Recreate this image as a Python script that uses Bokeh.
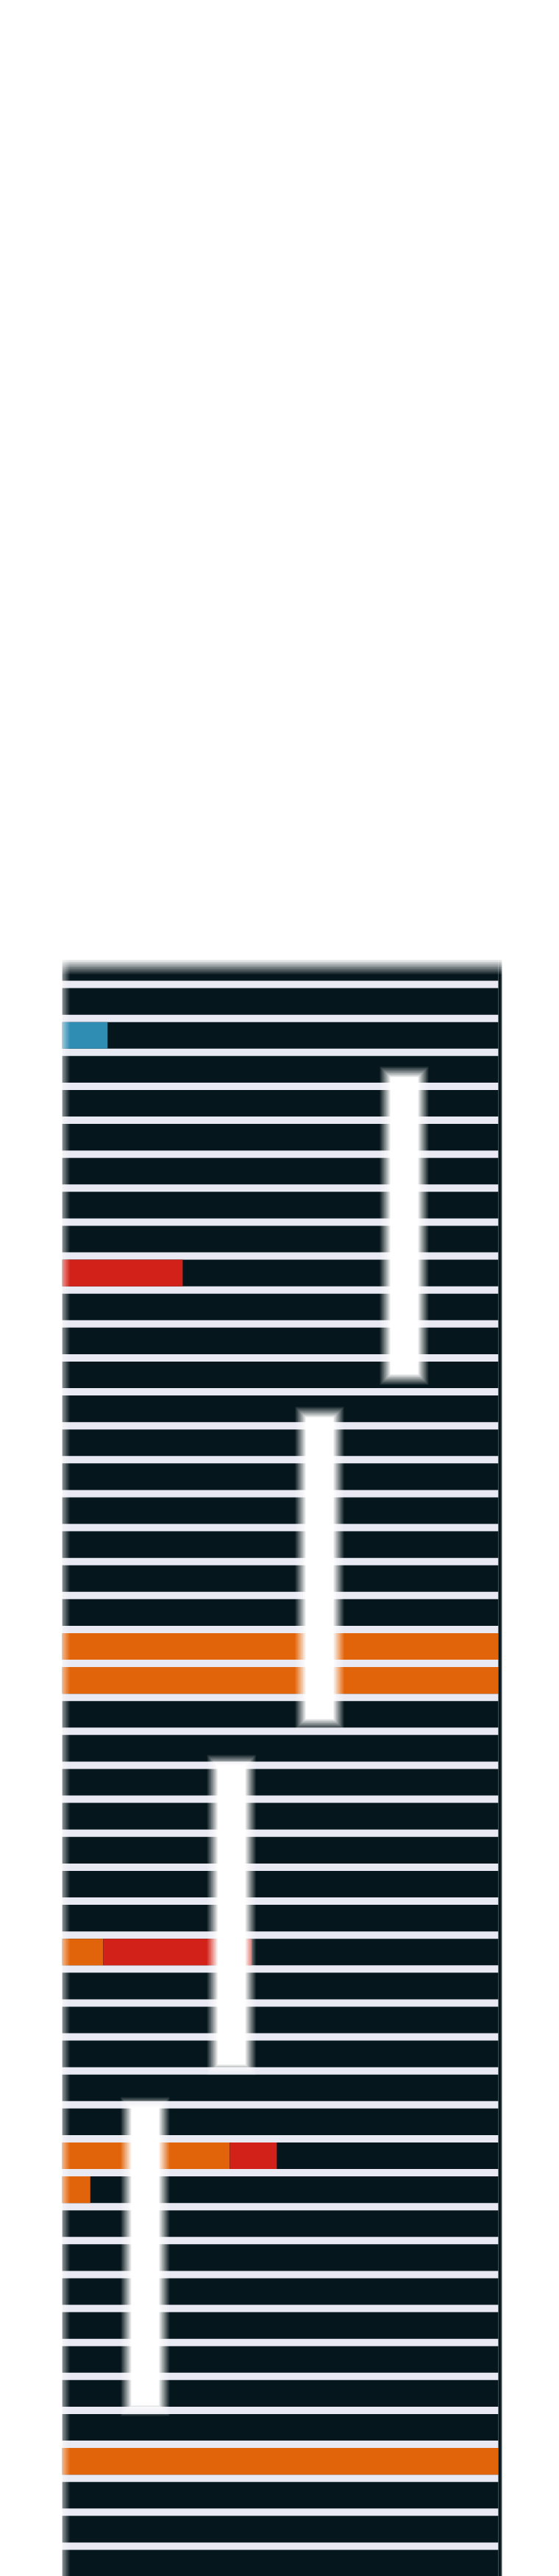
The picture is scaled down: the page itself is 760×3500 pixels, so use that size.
from bokeh.plotting import figure
from bokeh.models import Range1d, ColumnDataSource
from bokeh.embed import file_html
from bokeh.resources import INLINE

# ---------------- data ----------------
# dark bands (row index; -1 is the partial band at the top)
rows = list(range(-1, 47))

# coloured segments: row, start value, end value, category
seg_row = [1, 8, 19, 20, 28, 28, 34, 34, 35, 43]
seg_start = [0, 0, 0, 0, 0, 8.5, 0, 37.8, 0, 0]
seg_end = [9.5, 26.9, 100, 100, 8.5, 42.9, 37.8, 48.7, 5.5, 100]
seg_cat = ["blue", "red", "orange", "orange", "orange", "red",
           "orange", "red", "orange", "orange"]

# white vertical bars: centre value, first row, last row
bar_x = [78.2, 58.6, 38.2, 18.2]
bar_top = [2.62, 12.64, 22.89, 32.97]
bar_bottom = [11.38, 21.53, 31.71, 41.75]

# ---------------- styles ----------------
DARK = "#05161c"
LAV = "#e9e9f3"
COLORS = {"blue": "#2f8cb2", "red": "#d22118", "orange": "#e2640a"}
PX = 5.87          # pixels per value unit
ROWPX = 46.13      # pixels per row
BAND = 36.13 / ROWPX
LEFT = -1.0        # left edge of drawn content (value units)
TOP = -0.83        # top edge of drawn content (row units)
RIGHT = 100.0
RCOL = 100.85
YMAX = 47.0

# the Bokeh page template has no body margin: the figure starts at (0, 0)
p = figure(width=760, height=3500,
           x_range=Range1d((0 - 90) / PX, (760 - 90) / PX),
           y_range=Range1d((3500 - 1342) / ROWPX, (0 - 1342) / ROWPX),
           x_axis_type=None, y_axis_type=None,
           toolbar_location=None, output_backend="svg",
           min_border=0, outline_line_color=None,
           background_fill_color="white", border_fill_color="white")
p.grid.visible = False

# lavender background (gaps between bands)
p.quad(left=[LEFT], right=[RIGHT], top=[-0.5], bottom=[YMAX],
       fill_color=LAV, line_color=None)

# dark bands
band_src = ColumnDataSource(dict(
    left=[LEFT] * len(rows), right=[RIGHT] * len(rows),
    top=[max(r, TOP) for r in rows],
    bottom=[r + BAND for r in rows]))
p.quad(left="left", right="right", top="top", bottom="bottom",
       source=band_src, fill_color=DARK, line_color=None)

# dark right border column
p.quad(left=[RIGHT], right=[RCOL], top=[TOP], bottom=[YMAX],
       fill_color=DARK, line_color=None)

# coloured segments
seg_src = ColumnDataSource(dict(
    left=[LEFT if s == 0 else s for s in seg_start],
    right=seg_end,
    top=[r for r in seg_row],
    bottom=[r + BAND for r in seg_row],
    color=[COLORS[c] for c in seg_cat]))
p.quad(left="left", right="right", top="top", bottom="bottom",
       source=seg_src, fill_color="color", line_color=None)

# white bars with soft edges
K = 8
HALF = 19 / PX
BX = 14 / PX
BY = 14 / ROWPX
for m in range(1, K + 1):
    f = (K - m + 1) / K
    a = 1.0 / (K + 2 - m)
    p.quad(left=[x - HALF - BX * f for x in bar_x],
           right=[x + HALF + BX * f for x in bar_x],
           top=[t - BY * f for t in bar_top],
           bottom=[b + BY * f for b in bar_bottom],
           fill_color="white", fill_alpha=a, line_color=None)
p.quad(left=[x - HALF for x in bar_x], right=[x + HALF for x in bar_x],
       top=bar_top, bottom=bar_bottom, fill_color="white", line_color=None)

# soft outer edges (left, top, right)
FAR_L, FAR_R = -20, 120
for m in range(1, K + 1):
    a = 1.0 / (K + 2 - m)
    # left: transparent at 94px, opaque at 76px
    xe = (94 - (m - 1) * 18 / K - 90) / PX
    p.quad(left=[FAR_L], right=[xe], top=[-2], bottom=[YMAX + 1],
           fill_color="white", fill_alpha=a, line_color=None)
    # top: transparent at 1323px, opaque at 1304px
    ye = (1323 - (m - 1) * 19 / K - 1342) / ROWPX
    p.quad(left=[FAR_L], right=[FAR_R], top=[-3], bottom=[ye],
           fill_color="white", fill_alpha=a, line_color=None)
    # right: transparent at 680px, opaque at 687px
    xr = (680 + (m - 1) * 7 / K - 90) / PX
    p.quad(left=[xr], right=[FAR_R], top=[-2], bottom=[YMAX + 1],
           fill_color="white", fill_alpha=a, line_color=None)

open("out.html", "w").write(file_html(p, INLINE))
